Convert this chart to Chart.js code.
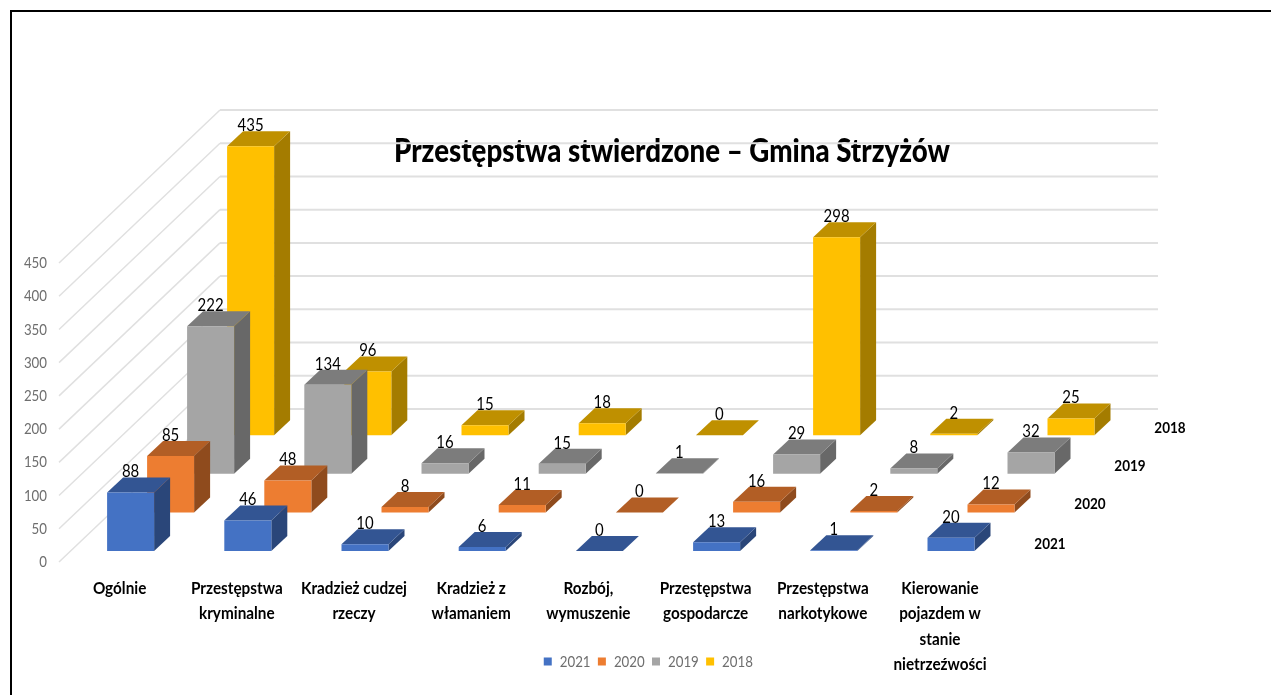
<!DOCTYPE html>
<html lang="pl">
<head>
<meta charset="utf-8">
<title>Przestępstwa stwierdzone – Gmina Strzyżów</title>
<style>html,body{margin:0;padding:0;background:#fff}canvas{display:block}</style>
<script src="https://cdn.jsdelivr.net/npm/chart.js@4"></script>
</head>
<body>
<canvas id="c" width="1271" height="695"></canvas>
<script>
const categories = [
  ['Ogólnie'],
  ['Przestępstwa', 'kryminalne'],
  ['Kradzież cudzej', 'rzeczy'],
  ['Kradzież z', 'włamaniem'],
  ['Rozbój,', 'wymuszenie'],
  ['Przestępstwa', 'gospodarcze'],
  ['Przestępstwa', 'narkotykowe'],
  ['Kierowanie', 'pojazdem w', 'stanie', 'nietrzeźwości']
];
const chartTitle = 'Przestępstwa stwierdzone – Gmina Strzyżów';
const seriesNames = ['2021', '2020', '2019', '2018'];
const values2021 = [88, 46, 10, 6, 0, 13, 1, 20];
const values2020 = [85, 48, 8, 11, 0, 16, 2, 12];
const values2019 = [222, 134, 16, 15, 1, 29, 8, 32];
const values2018 = [435, 96, 15, 18, 0, 298, 2, 25];
const frontColors = ['#4472C4', '#ED7D31', '#A5A5A5', '#FFC000'];
const topColors = ['#335593', '#B25E25', '#7C7C7C', '#BF9000'];
const sideColors = ['#2A4679', '#8F4B1D', '#686868', '#A47C00'];

const FONT = 'Lato, sans-serif';
const CONDENSE = 0.83, CONDENSE_BOLD = 0.9;
const SERIES_DX = 40, SERIES_DY = -38.6, FLOOR_LIFT = -11;
const BAR_DX = 16, BAR_DY = -15;
const WALL_LEFT = 59, WALL_BACK = 220, WALL_RIGHT = 1158, WALL_DY = -153;
const seriesLabelPos = [[1050, 544], [1090, 504], [1130, 466], [1170, 428]];

const canvas = document.getElementById('c');
const ctx2d = canvas.getContext('2d');
const nativeFillText = ctx2d.fillText.bind(ctx2d);
ctx2d.fillText = (text, x, y, maxWidth) => {
  const k = /bold|[6-9]00/.test(ctx2d.font) ? CONDENSE_BOLD : CONDENSE;
  const w = maxWidth !== undefined ? maxWidth : ctx2d.measureText(text).width * k;
  nativeFillText(text, x, y, w);
};

function poly(ctx, pts, fill) {
  ctx.beginPath();
  pts.forEach((p, i) => i ? ctx.lineTo(p[0], p[1]) : ctx.moveTo(p[0], p[1]));
  ctx.closePath();
  ctx.fillStyle = fill;
  ctx.fill();
}

const view3d = {
  id: 'view3d',
  afterLayout(chart) {
    const t = chart.titleBlock;
    t.left = 394; t.right = 950;
    const l = chart.legend;
    const h = l.bottom - l.top;
    l.left = 0; l.right = 1303;
    l.top = 666 - h / 2; l.bottom = l.top + h;
    chart.scales.x.bottom = 695;
  },
  beforeDraw(chart) {
    const ctx = chart.ctx;
    ctx.save();
    ctx.strokeStyle = '#000';
    ctx.lineWidth = 2;
    ctx.beginPath();
    ctx.moveTo(11, 695); ctx.lineTo(11, 11); ctx.lineTo(1271, 11);
    ctx.stroke();
    ctx.restore();
  },
  beforeDatasetsDraw(chart) {
    const ctx = chart.ctx, y = chart.scales.y;
    ctx.save();
    ctx.strokeStyle = '#E0E0E0';
    y.ticks.forEach(t => {
      const py = y.getPixelForValue(t.value);
      ctx.lineWidth = 1.5;
      ctx.beginPath();
      ctx.moveTo(WALL_LEFT, py);
      ctx.lineTo(WALL_BACK, py + WALL_DY);
      ctx.stroke();
      ctx.lineWidth = 2;
      ctx.beginPath();
      ctx.moveTo(WALL_BACK, py + WALL_DY);
      ctx.lineTo(WALL_RIGHT, py + WALL_DY);
      ctx.stroke();
    });
    for (let d = chart.data.datasets.length - 1; d >= 0; d--) {
      const ox = SERIES_DX * d, oy = FLOOR_LIFT + SERIES_DY * d;
      chart.getDatasetMeta(d).data.forEach(bar => {
        const p = bar.getProps(['x', 'y', 'base', 'width'], true);
        const L = p.x - p.width / 2 + ox, R = p.x + p.width / 2 + ox;
        const T = p.y + oy, B = p.base + oy;
        poly(ctx, [[R, T], [R + BAR_DX, T + BAR_DY], [R + BAR_DX, B + BAR_DY], [R, B]], sideColors[d]);
        poly(ctx, [[L, T], [L + BAR_DX, T + BAR_DY], [R + BAR_DX, T + BAR_DY], [R, T]], topColors[d]);
        if (B - T > 0.2) poly(ctx, [[L, T], [R, T], [R, B], [L, B]], frontColors[d]);
      });
    }
    ctx.textAlign = 'center';
    ctx.textBaseline = 'middle';
    ctx.fillStyle = '#000';
    ctx.font = '18px ' + FONT;
    chart.data.datasets.forEach((ds, d) => {
      const ox = SERIES_DX * d, oy = FLOOR_LIFT + SERIES_DY * d;
      chart.getDatasetMeta(d).data.forEach((bar, i) => {
        const p = bar.getProps(['x', 'y'], true);
        ctx.fillText(String(ds.data[i]), p.x + ox, p.y + oy + BAR_DY - 6);
      });
    });
    ctx.font = 'bold 15px ' + FONT;
    seriesNames.forEach((n, d) => ctx.fillText(n, seriesLabelPos[d][0], seriesLabelPos[d][1]));
    ctx.restore();
    return false;
  }
};

const allValues = [values2021, values2020, values2019, values2018];
new Chart(canvas, {
  type: 'bar',
  data: {
    labels: categories,
    datasets: seriesNames.map((n, i) => ({
      label: n,
      data: allValues[i],
      backgroundColor: frontColors[i],
      borderWidth: 0,
      grouped: false,
      barPercentage: 47 / 117.2,
      categoryPercentage: 1
    }))
  },
  plugins: [view3d],
  options: {
    responsive: false,
    animation: false,
    layout: { padding: { left: 0, right: 261.4, top: 0, bottom: 0 } },
    plugins: {
      tooltip: { enabled: false },
      title: {
        display: true,
        text: chartTitle,
        color: '#000',
        font: { family: FONT, size: 32, weight: '900', lineHeight: 1.2 },
        padding: { top: 132, bottom: 92.6 }
      },
      legend: {
        position: 'bottom',
        labels: {
          boxWidth: 8, boxHeight: 8, padding: 1,
          color: '#6E6E6E',
          font: { family: FONT, size: 16 }
        }
      }
    },
    scales: {
      x: {
        type: 'category',
        offset: true,
        grid: { display: false, drawTicks: false },
        border: { display: false },
        afterFit(a) { a.height = 106; },
        ticks: {
          autoSkip: false, maxRotation: 0, minRotation: 0,
          labelOffset: -11, padding: 14,
          color: '#000',
          font: { family: FONT, size: 17, weight: 'bold', lineHeight: 25.3 / 17 }
        }
      },
      y: {
        type: 'linear',
        min: 0, max: 450,
        grid: { display: false, drawTicks: false },
        border: { display: false },
        afterFit(a) { a.width = 72; },
        ticks: {
          stepSize: 50, padding: 25,
          color: '#6E6E6E',
          font: { family: FONT, size: 16 }
        }
      }
    }
  }
});
</script>
</body>
</html>
